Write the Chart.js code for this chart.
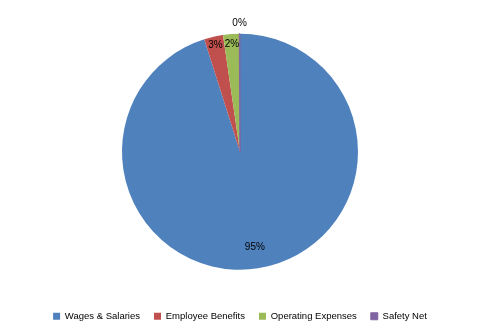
<!DOCTYPE html>
<html>
<head>
<meta charset="UTF-8">
<title>Pie</title>
<script src="https://cdn.jsdelivr.net/npm/chart.js"></script>
<style>
  body { margin: 0; background: #fff; }
  #wrap { width: 480px; height: 333px; }
</style>
</head>
<body>
<div id="wrap"><canvas id="pieChart" width="480" height="333"></canvas></div>
<script>
const categories = ['Wages & Salaries', 'Employee Benefits', 'Operating Expenses', 'Safety Net'];
const shares = [95.1, 2.6, 2.2, 0.1];
const pctLabels = ['95%', '3%', '2%', '0%'];
const colors = ['#4F81BD', '#C0504D', '#9BBB59', '#8064A2'];

// label distance from the centre, as a fraction of the radius
const labelRadius = [0.82, 0.93, 0.91, 1.09];

const pctPlugin = {
    id: 'pctLabels',
    afterDatasetsDraw(chart) {
        const ctx = chart.ctx;
        const meta = chart.getDatasetMeta(0);
        ctx.save();
        ctx.font = '10px "Liberation Sans", Arial, sans-serif';
        ctx.fillStyle = '#000';
        ctx.textAlign = 'center';
        ctx.textBaseline = 'middle';
        meta.data.forEach((arc, i) => {
            const p = arc.getProps(['x', 'y', 'startAngle', 'endAngle', 'outerRadius'], true);
            const mid = (p.startAngle + p.endAngle) / 2;
            const r = p.outerRadius * labelRadius[i];
            ctx.fillText(pctLabels[i], p.x + Math.cos(mid) * r, p.y + Math.sin(mid) * r);
        });
        ctx.restore();
    }
};

new Chart(document.getElementById('pieChart').getContext('2d'), {
    type: 'pie',
    data: {
        labels: categories,
        datasets: [{
            data: shares,
            backgroundColor: colors,
            borderColor: colors,
            borderWidth: [0, 0, 0, 1],
        }],
    },
    options: {
        responsive: false,
        animation: false,
        radius: 118,
        layout: { padding: { top: 6, bottom: 2 } },
        plugins: {
            tooltip: { enabled: false },
            legend: {
                position: 'bottom',
                labels: {
                    boxWidth: 7,
                    boxHeight: 7,
                    padding: 14,
                    color: '#000',
                    font: { family: '"Liberation Sans", Arial, sans-serif', size: 9.5 },
                },
            },
        },
    },
    plugins: [pctPlugin],
});
</script>
</body>
</html>
